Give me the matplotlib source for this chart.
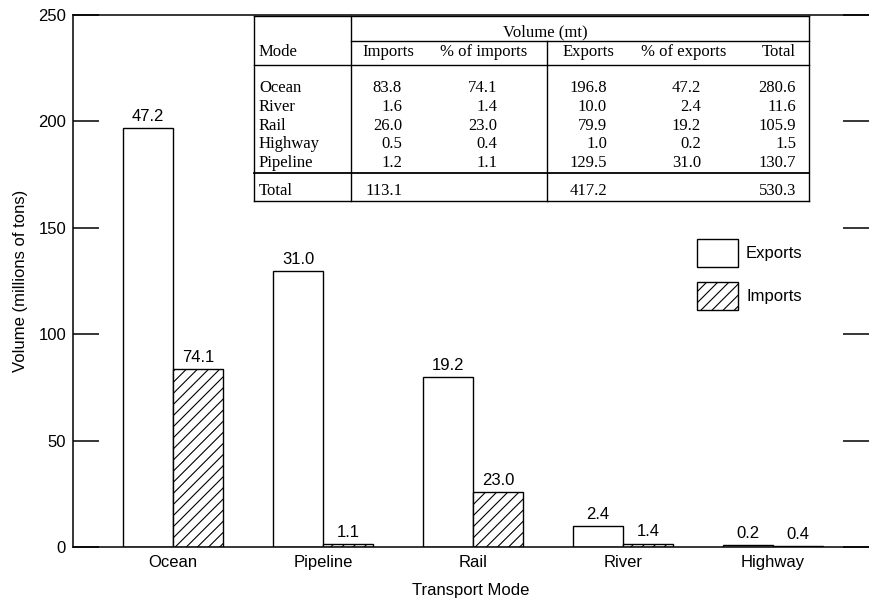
import matplotlib
matplotlib.use("Agg")
import matplotlib.pyplot as plt
from matplotlib.lines import Line2D

# ---- data ----
table_modes = ["Ocean", "River", "Rail", "Highway", "Pipeline"]
table_imports = [83.8, 1.6, 26.0, 0.5, 1.2]
table_pct_imports = [74.1, 1.4, 23.0, 0.4, 1.1]
table_exports = [196.8, 10.0, 79.9, 1.0, 129.5]
table_pct_exports = [47.2, 2.4, 19.2, 0.2, 31.0]
table_totals = [280.6, 11.6, 105.9, 1.5, 130.7]
total_imports = 113.1
total_exports = 417.2
total_all = 530.3

chart_order = ["Ocean", "Pipeline", "Rail", "River", "Highway"]
yticks = [0, 50, 100, 150, 200, 250]

W, H = 869, 603
fig = plt.figure(figsize=(W / 100, H / 100), dpi=100)
plt.rcParams['hatch.linewidth'] = 0.8
sans = ["Liberation Sans", "DejaVu Sans"]
serif = ["Liberation Serif", "DejaVu Serif"]

ax = fig.add_axes([73 / W, 1 - 547 / H, 796 / W, 532 / H])

idx = [table_modes.index(m) for m in chart_order]
exp_vals = [table_exports[i] for i in idx]
imp_vals = [table_imports[i] for i in idx]
exp_pct = [table_pct_exports[i] for i in idx]
imp_pct = [table_pct_imports[i] for i in idx]
xs = list(range(len(chart_order)))
bw = 1 / 3

b1 = ax.bar([x - bw / 2 for x in xs], exp_vals, width=bw, color="white",
            edgecolor="black", linewidth=1.0, label="Exports")
b2 = ax.bar([x + bw / 2 for x in xs], imp_vals, width=bw, color="white",
            edgecolor="black", linewidth=1.0, hatch="///", label="Imports")
ax.bar_label(b1, labels=[f"{v:.1f}" for v in exp_pct], padding=3,
             fontsize=12, family=sans)
ax.bar_label(b2, labels=[f"{v:.1f}" for v in imp_pct], padding=3,
             fontsize=12, family=sans)

ax.set_xlim(-2 / 3, 4.64)
ax.set_ylim(0, 250)
ax.set_yticks(yticks)
ax.set_xticks(xs)
ax.set_xticklabels(chart_order, fontsize=12, family=sans)
ax.tick_params(axis="x", length=0, pad=6)
ax.tick_params(axis="y", direction="in", length=19, width=1.1, left=True,
               right=True, labelsize=12, pad=5)
for lab in ax.get_yticklabels():
    lab.set_family(sans)
ax.spines["right"].set_visible(False)
for s in ["left", "top", "bottom"]:
    ax.spines[s].set_linewidth(1.1)

ax.set_ylabel("Volume (millions of tons)", fontsize=12, family=sans)
ax.set_xlabel("Transport Mode", fontsize=12, family=sans)
ax.yaxis.set_label_coords((28 - 73) / 796, 0.5)
ax.xaxis.set_label_coords(0.5, (547 - 583) / 532)

fs_leg = 12
pxem = fs_leg * 100 / 72
hh = (28 / pxem - 0.245) / 0.65
leg = ax.legend(handles=[b1, b2], labels=["Exports", "Imports"],
                loc="upper left", bbox_to_anchor=(697 / W, 1 - 239 / H),
                bbox_transform=fig.transFigure, frameon=False,
                borderpad=0, borderaxespad=0,
                handlelength=41 / pxem, handleheight=hh,
                handletextpad=8 / pxem, labelspacing=14.5 / pxem,
                prop={"family": sans, "size": fs_leg})

# ---- table (pixel coordinates in its own axes) ----
tx0, tx1, ty0, ty1 = 254, 809, 16, 201
tab = fig.add_axes([tx0 / W, 1 - ty1 / H, (tx1 - tx0) / W, (ty1 - ty0) / H])
tab.set_xlim(tx0, tx1)
tab.set_ylim(ty1, ty0)
tab.axis("off")
tab.patch.set_visible(False)

lw = 1.0
def hline(y, x0, x1, w=lw):
    tab.add_line(Line2D([x0, x1], [y, y], color="black", linewidth=w, clip_on=False))
def vline(x, y0, y1, w=lw):
    tab.add_line(Line2D([x, x], [y0, y1], color="black", linewidth=w, clip_on=False))

hline(ty0, tx0, tx1)
hline(ty1, tx0, tx1)
vline(tx0, ty0, ty1)
vline(tx1, ty0, ty1)
vline(351, ty0, ty1)
hline(41, 351, tx1)
vline(547, 41, ty1)
hline(65, tx0, tx1)
hline(173, tx0, tx1, 1.3)

tfs = 12
def t(x, y, s, ha="left"):
    tab.text(x, y, s, ha=ha, va="center", fontsize=tfs, family=serif)

t(545, 32, "Volume (mt)", "center")
t(259, 52, "Mode")
t(388, 52, "Imports", "center")
t(484, 52, "% of imports", "center")
t(588, 52, "Exports", "center")
t(684, 52, "% of exports", "center")
t(796, 52, "Total", "right")

row_y = [88, 107, 126, 144, 163]
col_r = [402, 497, 607, 701, 796]
for i, m in enumerate(table_modes):
    y = row_y[i]
    t(259, y, m)
    vals = [table_imports[i], table_pct_imports[i], table_exports[i],
            table_pct_exports[i], table_totals[i]]
    for xr, v in zip(col_r, vals):
        t(xr, y, f"{v:.1f}", "right")

t(259, 191, "Total")
t(col_r[0], 191, f"{total_imports:.1f}", "right")
t(col_r[2], 191, f"{total_exports:.1f}", "right")
t(col_r[4], 191, f"{total_all:.1f}", "right")

fig.savefig("out.png", dpi=100)
